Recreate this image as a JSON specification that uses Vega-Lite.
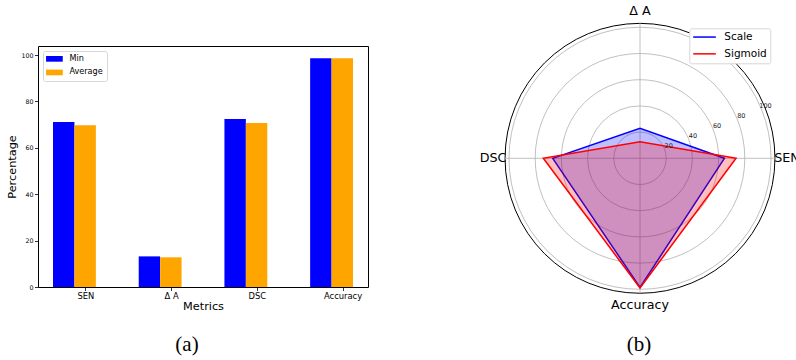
{
  "$schema": "https://vega.github.io/schema/vega-lite/v6.json",
  "autosize": {"type": "pad"},
  "padding": {"left": 5, "top": 5, "right": -4, "bottom": 0},
  "spacing": 136,
  "bounds": "flush",
  "config": {
    "font": "DejaVu Sans",
    "view": {"stroke": null},
    "axis": {"domainColor": "black", "tickColor": "black", "labelColor": "black", "titleColor": "black", "grid": false, "titleFontWeight": "normal", "tickWidth": 0.8, "domainWidth": 0.8},
    "title": {"font": "Liberation Serif", "fontSize": 21, "fontWeight": "normal", "color": "black"}
  },
  "resolve": {"scale": {"color": "independent", "x": "independent", "y": "independent"}, "legend": {"color": "independent"}},
  "hconcat": [
    {
      "title": {"text": "(a)", "orient": "bottom", "dx": -16, "offset": 22},
      "width": 330,
      "height": 241,
      "view": {"stroke": "black", "strokeWidth": 1},
      "data": {"values": [
        {"metric": "SEN", "series": "Min", "value": 71.1},
        {"metric": "SEN", "series": "Average", "value": 69.7},
        {"metric": "Δ A", "series": "Min", "value": 13.2},
        {"metric": "Δ A", "series": "Average", "value": 12.8},
        {"metric": "DSC", "series": "Min", "value": 72.4},
        {"metric": "DSC", "series": "Average", "value": 70.7},
        {"metric": "Accuracy", "series": "Min", "value": 98.6},
        {"metric": "Accuracy", "series": "Average", "value": 98.6}
      ]},
      "mark": {"type": "bar"},
      "encoding": {
        "x": {"field": "metric", "type": "nominal", "sort": ["SEN", "Δ A", "DSC", "Accuracy"],
              "scale": {"paddingInner": 0.5, "paddingOuter": 0.175},
              "axis": {"title": "Metrics", "labelAngle": 0, "tickOffset": 11, "tickSize": 3.5, "labelFontSize": 8.4, "titleFontSize": 11.3, "labelPadding": 1, "titlePadding": 1, "domain": false}},
        "xOffset": {"field": "series", "type": "nominal", "sort": ["Min", "Average"], "scale": {"paddingInner": 0, "paddingOuter": 0}},
        "y": {"field": "value", "type": "quantitative", "scale": {"domain": [0, 103.9], "nice": false},
              "axis": {"values": [0, 20, 40, 60, 80, 100], "title": "Percentage", "tickSize": 3.5, "labelFontSize": 6.3, "titleFontSize": 11.3, "labelPadding": 1.5, "titlePadding": 3.5, "domain": false}},
        "color": {"field": "series", "type": "nominal", "sort": ["Min", "Average"],
                  "scale": {"domain": ["Min", "Average"], "range": ["#0000ff", "#ffa500"]},
                  "legend": {"orient": "top-left", "offset": 5, "title": null, "symbolType": "M-1.2,-0.71H2.975V0.71H-1.2Z", "symbolSize": 64, "symbolStrokeWidth": 0, "symbolOffset": 0, "labelFontSize": 8.1, "labelOffset": 14.5, "padding": 3.8, "rowPadding": 4.6, "strokeColor": "#d6d6d6", "fillColor": "white", "cornerRadius": 2}}
      }
    },
    {
      "title": {"text": "(b)", "orient": "bottom", "dx": -1, "offset": 22},
      "width": 272,
      "height": 241,
      "view": {"stroke": null},
      "layer": [
        {
          "data": {"values": [{"r": 20}, {"r": 40}, {"r": 60}, {"r": 80}, {"r": 100}]},
          "mark": {"type": "arc", "theta": 0, "theta2": 6.2832, "filled": false, "stroke": "#b0b0b0", "strokeWidth": 0.8},
          "encoding": {
            "x": {"datum": 0, "type": "quantitative", "scale": {"domain": [-103.8, 103.8], "nice": false, "zero": false}, "axis": null},
            "y": {"datum": 0, "type": "quantitative", "scale": {"domain": [-98.2, 85.7], "nice": false, "zero": false}, "axis": null},
            "radius": {"field": "r", "type": "quantitative", "stack": null, "scale": {"type": "linear", "domain": [0, 103.8], "range": [0, 136], "zero": true, "nice": false}}
          }
        },
        {
          "data": {"values": [{"r": 103}]},
          "mark": {"type": "arc", "theta": 0, "theta2": 6.2832, "filled": false, "stroke": "black", "strokeWidth": 1},
          "encoding": {
            "x": {"datum": 0, "type": "quantitative"},
            "y": {"datum": 0, "type": "quantitative"},
            "radius": {"field": "r", "type": "quantitative", "stack": null}
          }
        },
        {
          "data": {"values": [{}]},
          "mark": {"type": "rule", "stroke": "#b0b0b0", "strokeWidth": 0.8},
          "encoding": {
            "x": {"datum": -103, "type": "quantitative"},
            "x2": {"datum": 103},
            "y": {"datum": 0, "type": "quantitative"}
          }
        },
        {
          "data": {"values": [{}]},
          "mark": {"type": "rule", "stroke": "#b0b0b0", "strokeWidth": 0.8},
          "encoding": {
            "y": {"datum": -103, "type": "quantitative"},
            "y2": {"datum": 103},
            "x": {"datum": 0, "type": "quantitative"}
          }
        },
        {
          "data": {"values": [
            {"method": "Scale", "metric": "SEN", "value": 64.4},
            {"method": "Scale", "metric": "Δ A", "value": 22.9},
            {"method": "Scale", "metric": "DSC", "value": 66.6},
            {"method": "Scale", "metric": "Accuracy", "value": 98.5},
            {"method": "Sigmoid", "metric": "SEN", "value": 73.3},
            {"method": "Sigmoid", "metric": "Δ A", "value": 12.7},
            {"method": "Sigmoid", "metric": "DSC", "value": 73.8},
            {"method": "Sigmoid", "metric": "Accuracy", "value": 99.0}
          ]},
          "transform": [
            {"calculate": "indexof(['SEN','Δ A','DSC','Accuracy'], datum.metric)", "as": "k"},
            {"calculate": "datum.value * cos(datum.k * PI / 2)", "as": "px"},
            {"calculate": "datum.value * sin(datum.k * PI / 2)", "as": "py"}
          ],
          "mark": {"type": "line", "interpolate": "linear-closed", "fillOpacity": 0.25, "strokeWidth": 1.5},
          "encoding": {
            "x": {"field": "px", "type": "quantitative"},
            "y": {"field": "py", "type": "quantitative"},
            "order": {"field": "k", "type": "quantitative"},
            "color": {"field": "method", "type": "nominal",
                      "scale": {"domain": ["Scale", "Sigmoid"], "range": ["#0000ff", "#ff0000"]},
                      "legend": {"orient": "none", "legendX": 185.3, "legendY": -17.7, "title": null, "symbolType": "M-1.21,0H4.44", "symbolSize": 64, "symbolStrokeWidth": 1.5, "symbolOffset": 0, "labelFontSize": 10.5, "labelOffset": 21, "padding": 3.5, "rowPadding": 5.8, "strokeColor": "#d6d6d6", "fillColor": "white", "cornerRadius": 2}},
            "fill": {"field": "method", "type": "nominal",
                     "scale": {"domain": ["Scale", "Sigmoid"], "range": ["#0000ff", "#ff0000"]},
                     "legend": null}
          }
        },
        {
          "data": {"values": [{"r": 20}, {"r": 40}, {"r": 60}, {"r": 80}, {"r": 100}]},
          "transform": [
            {"calculate": "(datum.r + 3.7) * cos(PI / 8)", "as": "lx"},
            {"calculate": "(datum.r + 3.7) * sin(PI / 8)", "as": "ly"}
          ],
          "mark": {"type": "text", "fontSize": 6.5, "color": "#222222", "align": "center", "baseline": "middle"},
          "encoding": {
            "x": {"field": "lx", "type": "quantitative"},
            "y": {"field": "ly", "type": "quantitative"},
            "text": {"field": "r", "type": "nominal"}
          }
        },
        {
          "data": {"values": [{"metric": "SEN"}, {"metric": "Δ A"}, {"metric": "DSC"}, {"metric": "Accuracy"}]},
          "transform": [
            {"calculate": "indexof(['SEN','Δ A','DSC','Accuracy'], datum.metric)", "as": "k"},
            {"calculate": "112.2 * cos(datum.k * PI / 2)", "as": "ax"},
            {"calculate": "112.2 * sin(datum.k * PI / 2)", "as": "ay"}
          ],
          "mark": {"type": "text", "fontSize": 12.7, "color": "black", "align": "center", "baseline": "middle"},
          "encoding": {
            "x": {"field": "ax", "type": "quantitative"},
            "y": {"field": "ay", "type": "quantitative"},
            "text": {"field": "metric", "type": "nominal"}
          }
        }
      ]
    }
  ]
}
